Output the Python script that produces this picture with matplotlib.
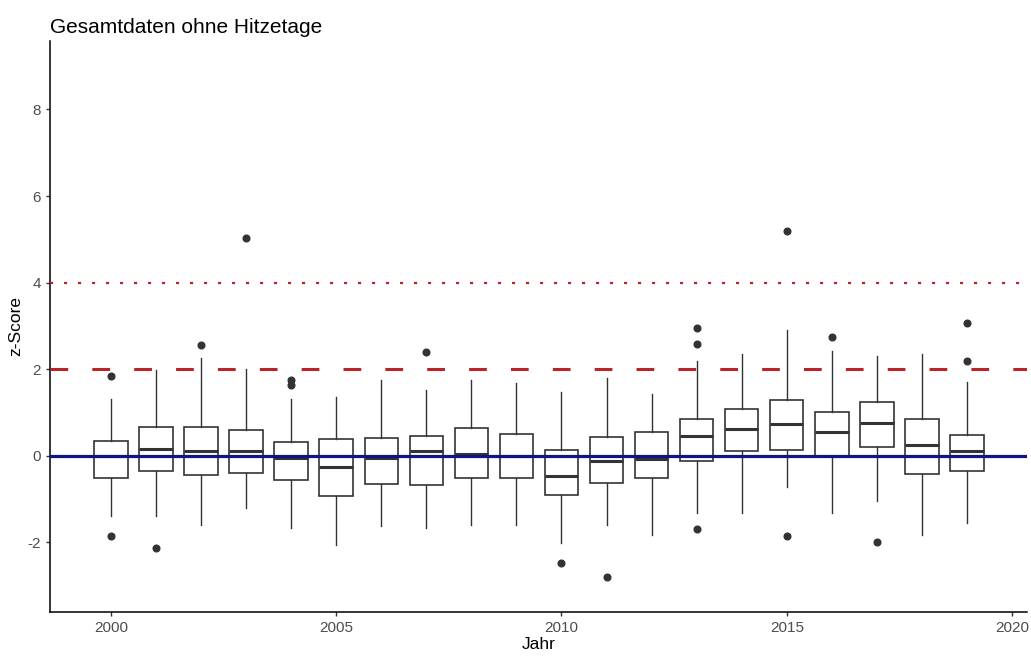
import matplotlib
matplotlib.use("Agg")
import matplotlib.pyplot as plt

plt.rcParams['font.family'] = ['Liberation Sans', 'DejaVu Sans']
plt.rcParams['axes.unicode_minus'] = False

# Jahreswerte: Box (Q1, Median, Q3), Whisker und Ausreisser
jahre = list(range(2000, 2020))
q1 = [-0.51, -0.34, -0.45, -0.40, -0.56, -0.92, -0.65, -0.68, -0.51, -0.51,
      -0.90, -0.62, -0.51, -0.12, 0.11, 0.13, 0.00, 0.21, -0.42, -0.34]
median = [0.00, 0.15, 0.12, 0.12, -0.04, -0.25, -0.04, 0.12, 0.05, 0.00,
          -0.47, -0.11, -0.08, 0.45, 0.62, 0.73, 0.56, 0.76, 0.25, 0.12]
q3 = [0.35, 0.66, 0.66, 0.60, 0.32, 0.38, 0.41, 0.46, 0.65, 0.50,
      0.13, 0.43, 0.55, 0.85, 1.07, 1.30, 1.02, 1.24, 0.85, 0.49]
whisker_lo = [-1.38, -1.38, -1.60, -1.21, -1.67, -2.06, -1.62, -1.67, -1.60, -1.60,
              -2.02, -1.60, -1.84, -1.32, -1.32, -0.71, -1.32, -1.04, -1.84, -1.55]
whisker_hi = [1.31, 1.97, 2.25, 2.00, 1.31, 1.36, 1.75, 1.52, 1.75, 1.69,
              1.47, 1.79, 1.42, 2.19, 2.35, 2.90, 2.41, 2.31, 2.35, 1.70]
ausreisser = [[1.85, -1.86], [-2.14], [2.57], [5.04], [1.75, 1.63], [], [], [2.40], [], [],
              [-2.48], [-2.81], [], [2.96, 2.58, -1.69], [], [5.20, -1.86], [2.74], [-1.98], [], [3.07, 2.18]]

stats = []
for i in range(len(jahre)):
    stats.append(dict(q1=q1[i], med=median[i], q3=q3[i],
                      whislo=whisker_lo[i], whishi=whisker_hi[i], fliers=ausreisser[i]))

fig = plt.figure(figsize=(10.31, 6.57), dpi=100)
ax = fig.add_axes([0.0485, 0.069, 0.9476, 0.8686])

grau = '#333333'
ax.bxp(stats, positions=jahre, widths=0.74, patch_artist=True, manage_ticks=False,
       boxprops=dict(facecolor='white', edgecolor=grau, linewidth=1.2),
       medianprops=dict(color=grau, linewidth=2.2),
       whiskerprops=dict(color=grau, linewidth=1.0),
       capprops=dict(linewidth=0),
       flierprops=dict(marker='o', markerfacecolor=grau, markeredgecolor=grau, markersize=4.8),
       zorder=2)

ax.axhline(0, color='#0d1680', linewidth=2.3, zorder=3)
ax.axhline(2, color='#b82428', linewidth=2.2, dashes=(5.8, 7.9), zorder=3)
ax.axhline(4, color='#b82428', linewidth=1.6, dashes=(1.4, 4.9), zorder=3)

ax.set_xlim(1998.65, 2020.33)
ax.set_ylim(-3.6, 9.58)
ax.set_xticks([2000, 2005, 2010, 2015, 2020])
ax.set_yticks([-2, 0, 2, 4, 6, 8])

for s in ['top', 'right']:
    ax.spines[s].set_visible(False)
for s in ['left', 'bottom']:
    ax.spines[s].set_linewidth(1.1)
    ax.spines[s].set_color('black')
ax.tick_params(colors=grau, labelcolor='#4d4d4d', labelsize=11, length=3, width=1.0)

ax.set_xlabel('Jahr', fontsize=12.5, labelpad=2)
ax.set_ylabel('z-Score', fontsize=12.5, labelpad=3)
ax.set_title('Gesamtdaten ohne Hitzetage', fontsize=15, loc='left', pad=6)

fig.savefig('out.png', dpi=100)
